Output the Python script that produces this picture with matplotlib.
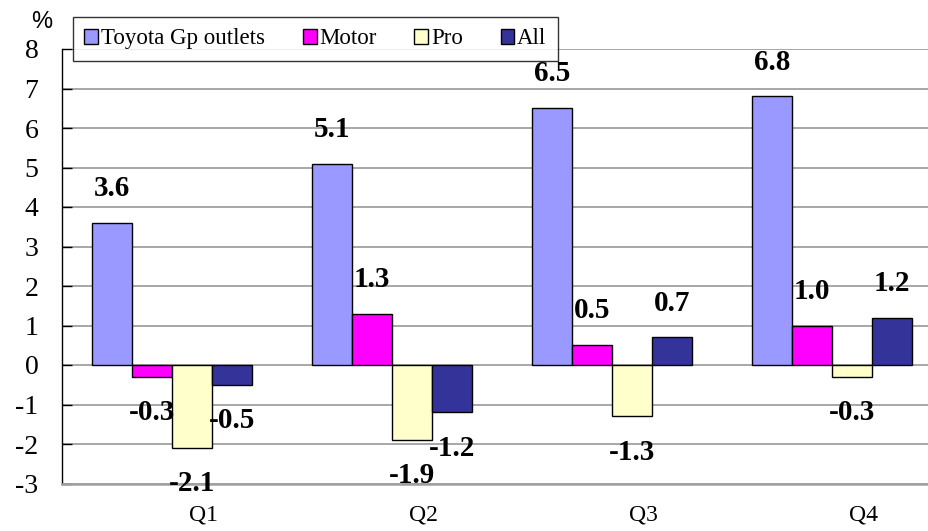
import matplotlib
matplotlib.use("Agg")
import matplotlib.pyplot as plt
import numpy as np

quarters = ["Q1", "Q2", "Q3", "Q4"]
series_names = ["Toyota Gp outlets", "Motor", "Pro", "All"]
toyota = [3.6, 5.1, 6.5, 6.8]
motor = [-0.3, 1.3, 0.5, 1.0]
pro = [-2.1, -1.9, -1.3, -0.3]
all_outlets = [-0.5, -1.2, 0.7, 1.2]
series_values = [toyota, motor, pro, all_outlets]
colors = ["#9999FF", "#FF00FF", "#FFFFCC", "#333399"]
y_ticks = list(range(-3, 9))

W, H = 929, 531
fig = plt.figure(figsize=(W / 100, H / 100), dpi=100)
ax = fig.add_axes([62 / W, (H - 483.5) / H, 880 / W, (483.5 - 49) / H])

serif = "Liberation Serif"
sans = "Liberation Sans"

x = np.arange(len(quarters))
bw = 0.182
handles = []
for k, (name, vals, col) in enumerate(zip(series_names, series_values, colors)):
    pos = x + (k - 1.5) * bw
    bars = ax.bar(pos, vals, width=bw, color=col, edgecolor="black",
                  linewidth=1.0, label=name, zorder=3)
    handles.append(bars)
    for px, v in zip(pos, vals):
        off = 15 if v >= 0 else -16
        ax.annotate(f"{v:.1f}", (px, v), xytext=(0, off),
                    textcoords="offset points", ha="center",
                    va="bottom" if v >= 0 else "top",
                    fontsize=21, fontweight="bold", family=serif, zorder=5)

ax.set_xlim(-0.5, 3.5)
ax.set_ylim(-3, 8)
ax.set_yticks(y_ticks)
ax.set_yticklabels([str(t) for t in y_ticks], fontsize=20, family=serif)
ax.tick_params(axis="y", direction="in", length=7, width=1, pad=17,
               color="black")
ax.set_xticks(x + 0.145)
ax.set_xticklabels(quarters, fontsize=17, family=serif)
ax.tick_params(axis="x", length=0, pad=15)

ax.grid(axis="y", color="#A0A0A0", linewidth=1.3, zorder=0)
ax.set_axisbelow(True)
for s in ["top", "right"]:
    ax.spines[s].set_visible(False)
ax.spines["left"].set_color("black")
ax.spines["left"].set_linewidth(1.0)
ax.spines["bottom"].set_color("#A0A0A0")
ax.spines["bottom"].set_linewidth(1.8)

fig.text(42 / W, 1 - 22 / H, "%", fontsize=17, family=sans,
         ha="center", va="center")

leg = fig.legend(handles=handles, labels=series_names, loc="upper left",
                 bbox_to_anchor=(73 / W, 1 - 17 / H), ncol=4,
                 prop={"family": serif, "size": 16.5}, frameon=True,
                 fancybox=False, edgecolor="black", borderaxespad=0,
                 handlelength=0.6, handleheight=0.6, handletextpad=0.12,
                 columnspacing=1.65, borderpad=0.5)
leg.get_frame().set_linewidth(1.0)
leg.set_zorder(10)

fig.savefig("out.png", dpi=100)
